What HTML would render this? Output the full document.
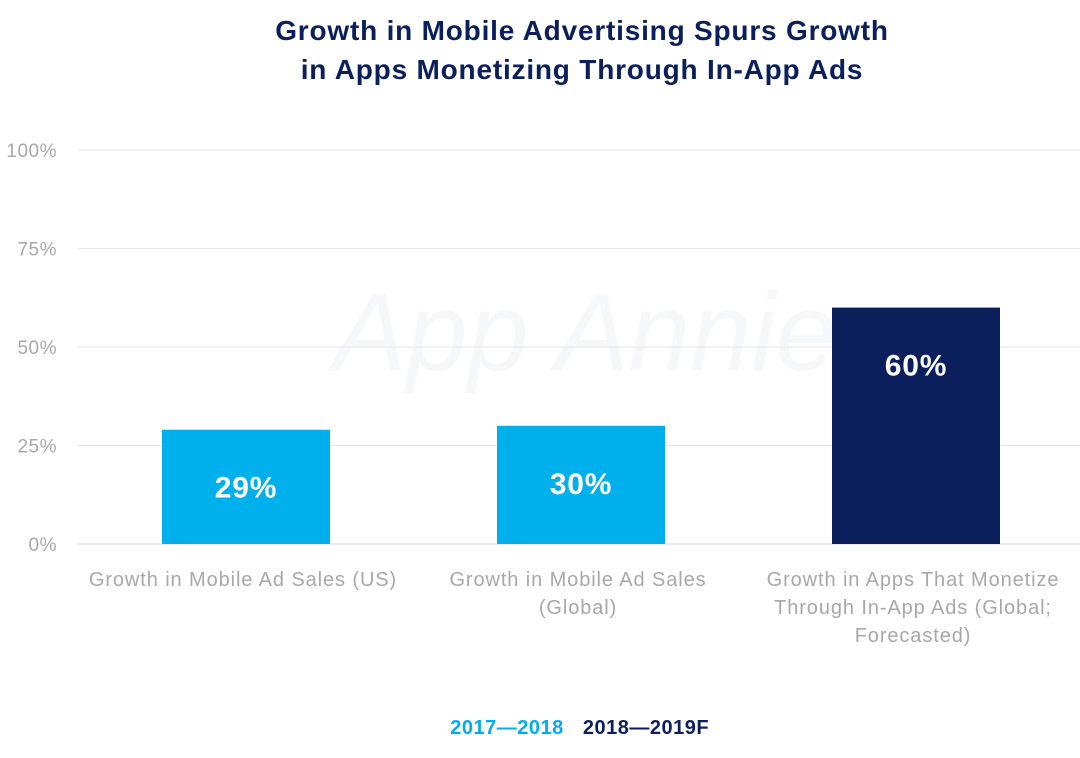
<!DOCTYPE html>
<html><head><meta charset="utf-8"><style>
body{margin:0;width:1080px;height:753px;background:#fff;font-family:"Liberation Sans",sans-serif;overflow:hidden}
</style></head><body>
<svg width="1080" height="753">
<text x="582" y="40" text-anchor="middle" font-size="28" font-weight="bold" letter-spacing="0.8" fill="#0b1f5c">Growth in Mobile Advertising Spurs Growth</text>
<text x="582" y="79" text-anchor="middle" font-size="28" font-weight="bold" letter-spacing="0.8" fill="#0b1f5c">in Apps Monetizing Through In-App Ads</text>
<text x="585" y="370" text-anchor="middle" font-size="110" font-style="italic" fill="#f6f7f9">App Annie</text>
<g id="grid"></g><g id="bars"></g><g id="cats"></g>
<text x="507" y="734" text-anchor="middle" font-size="20" font-weight="bold" letter-spacing="0.5" fill="#00aeef">2017—2018</text>
<text x="646" y="734" text-anchor="middle" font-size="20" font-weight="bold" letter-spacing="0.5" fill="#0b1f5c">2018—2019F</text>
</svg>
<script>
const ticks=[0,25,50,75,100];
const tickLabels=["0%","25%","50%","75%","100%"];
const categories=[["Growth in Mobile Ad Sales (US)"],["Growth in Mobile Ad Sales","(Global)"],["Growth in Apps That Monetize","Through In-App Ads (Global;","Forecasted)"]];
const values=[29,30,60];
const valueLabels=["29%","30%","60%"];
const seriesIdx=[0,0,1];
const colors=["#00b0ec","#0b1f5c"];
const NS="http://www.w3.org/2000/svg";
const y=v=>544-v*3.94;
const xc=i=>246+i*335;
function mk(t,a,p){const e=document.createElementNS(NS,t);for(const k in a)e.setAttribute(k,a[k]);p.appendChild(e);return e;}
const g=document.getElementById('grid');
ticks.forEach((t,i)=>{
 const l=mk('line',{x1:78,x2:1080,y1:y(t),y2:y(t),stroke:i==0?'#d8d8d8':'#e6e6e6','stroke-width':1},g);
 
 
 const tx=mk('text',{x:57,y:y(t)+7,'text-anchor':'end','font-size':19,'letter-spacing':0.5,fill:'#a8a8a8'},g);
 tx.textContent=tickLabels[i];
 
 
});
const b=document.getElementById('bars');
values.forEach((v,i)=>{
 const r=mk('rect',{x:xc(i)-84,y:y(v),width:168,height:544-y(v),fill:colors[seriesIdx[i]]},b);
 
 
 const t=mk('text',{x:xc(i),y:y(v)+68,'text-anchor':'middle','font-size':30,'font-weight':'bold','letter-spacing':0.8,fill:'#fff'},b);
 t.textContent=valueLabels[i];
 
 
});
const c=document.getElementById('cats');
categories.forEach((lines,i)=>{
 lines.forEach((s,j)=>{
  const t=mk('text',{x:xc(i)-3,y:586+j*28,'text-anchor':'middle','font-size':20,'letter-spacing':0.9,fill:'#a8a8a8'},c);
  t.textContent=s;
  
  
 });
});
</script>
</body></html>
